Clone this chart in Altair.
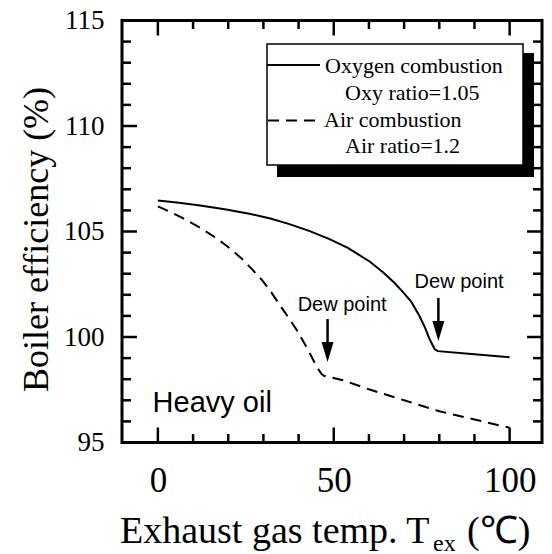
import altair as alt
import pandas as pd

# ---- data ----
temp_oxy = [0, 6, 12, 19, 26, 32, 37.4, 43, 48.8, 54, 60.2, 64, 67.3, 70, 72, 74.4, 76, 77.3, 78.7, 79.6, 90, 100]
eff_oxy = [106.47, 106.36, 106.23, 106.05, 105.84, 105.62, 105.35, 105.03, 104.64, 104.22, 103.58, 103.07, 102.56,
           102.07, 101.68, 100.98, 100.42, 99.88, 99.42, 99.33, 99.18, 99.04]

temp_air = [0, 3.5, 7.1, 12, 16.6, 20.5, 24.2, 27, 29.9, 32.3, 34.6, 37, 39.4, 41.8, 44.1, 45.5, 46.5, 47.2, 52.6,
            60, 70, 80, 90, 100]
eff_air = [106.19, 105.93, 105.63, 105.18, 104.69, 104.2, 103.66, 103.17, 102.64, 102.1, 101.53, 100.95, 100.35,
           99.66, 98.93, 98.5, 98.25, 98.16, 97.95, 97.52, 97.0, 96.48, 96.09, 95.7]

x_label_values = [0, 50, 100]
y_label_values = [95, 100, 105, 110, 115]
x_major_ticks = [0, 50, 100]
x_minor_ticks = [10, 20, 30, 40, 60, 70, 80, 90]
y_major_ticks = [100, 105, 110]
y_minor_ticks = [96, 97, 98, 99, 101, 102, 103, 104, 106, 107, 108, 109, 111, 112, 113, 114]

legend_titles = ["Oxygen combustion", "Air combustion"]
legend_subtitles = ["Oxy ratio=1.05", "Air ratio=1.2"]

dew_label = "Dew point"
dew_arrow_x = [48.24, 79.74]
dew_arrow_top = [100.85, 101.85]
dew_arrow_head = [99.29, 100.28]
dew_text_x = [52.37, 85.63]
dew_text_y = [101.25, 102.31]

fuel_label = ["Heavy oil"]
fuel_x = [-1.5]
fuel_y = [96.46]

x_title = "Exhaust gas temp. T"
x_title_sub = "ex"
x_title_unit = "(\u2103)"
y_title = "Boiler efficiency (%)"

# ---- layout ----
W, H = 420, 422
SERIF = "Liberation Serif"
SANS = "Liberation Sans"

xs = alt.Scale(domain=[-10.2, 109.2], nice=False, zero=False)
ys = alt.Scale(domain=[95, 115], nice=False, zero=False)

x_axis = alt.Axis(values=x_label_values, title=None, ticks=False, tickSize=0, domain=False, grid=False,
                  labelFont=SERIF, labelFontSize=35, labelColor="black", labelPadding=21, labelFlush=False)
y_axis = alt.Axis(values=y_label_values, title=None, ticks=False, tickSize=0, domain=False, grid=False,
                  labelFont=SERIF, labelFontSize=27, labelColor="black", labelPadding=18, labelFlush=False)


def X(field="T"):
    return alt.X(f"{field}:Q", scale=xs, axis=x_axis)


def Y(field="eff"):
    return alt.Y(f"{field}:Q", scale=ys, axis=y_axis)


one = pd.DataFrame({"a": [0]})

oxy = alt.Chart(pd.DataFrame({"T": temp_oxy, "eff": eff_oxy})).mark_line(
    color="black", strokeWidth=2).encode(x=X(), y=Y())
air = alt.Chart(pd.DataFrame({"T": temp_air, "eff": eff_air})).mark_line(
    color="black", strokeWidth=2, strokeDash=[11, 7]).encode(x=X(), y=Y())

layers = [oxy, air]

# ticks (inward on all four sides)
for vals, ln in ((x_major_ticks, 15), (x_minor_ticks, 8.5)):
    d = pd.DataFrame({"T": vals})
    layers.append(alt.Chart(d).mark_rule(color="black", strokeWidth=2.5).encode(
        x=X(), y=alt.value(H), y2=alt.value(H - ln)))
    layers.append(alt.Chart(d).mark_rule(color="black", strokeWidth=2.5).encode(
        x=X(), y=alt.value(0), y2=alt.value(ln)))
for vals, ln in ((y_major_ticks, 15), (y_minor_ticks, 9)):
    d = pd.DataFrame({"eff": vals})
    layers.append(alt.Chart(d).mark_rule(color="black", strokeWidth=2.5).encode(
        y=Y(), x=alt.value(0), x2=alt.value(ln)))
    layers.append(alt.Chart(d).mark_rule(color="black", strokeWidth=2.5).encode(
        y=Y(), x=alt.value(W - ln), x2=alt.value(W)))

# legend box with shadow
layers.append(alt.Chart(one).mark_rect(color="black").encode(
    x=alt.value(155), x2=alt.value(412), y=alt.value(32.5), y2=alt.value(156.5)))
layers.append(alt.Chart(one).mark_rect(fill="white", stroke="black", strokeWidth=1.5).encode(
    x=alt.value(145), x2=alt.value(401), y=alt.value(23.5), y2=alt.value(144.5)))
layers.append(alt.Chart(one).mark_rule(color="black", strokeWidth=2).encode(
    x=alt.value(145), x2=alt.value(198), y=alt.value(44.5)))
layers.append(alt.Chart(one).mark_rule(color="black", strokeWidth=2, strokeDash=[11, 7]).encode(
    x=alt.value(146), x2=alt.value(194), y=alt.value(100)))
for txt, px, py in ((legend_titles[0], 203, 52.8), (legend_subtitles[0], 223, 79.5),
                    (legend_titles[1], 202, 106.2), (legend_subtitles[1], 223, 132.2)):
    layers.append(alt.Chart(one).mark_text(font=SERIF, fontSize=22, color="black", align="left",
                                           baseline="alphabetic").encode(
        x=alt.value(px), y=alt.value(py), text=alt.value(txt)))

# dew point arrows
arrows = pd.DataFrame({"T": dew_arrow_x, "eff": dew_arrow_top, "eff2": dew_arrow_head})
layers.append(alt.Chart(arrows).mark_rule(color="black", strokeWidth=2.5).encode(
    x=X(), y=Y(), y2="eff2:Q"))
heads = pd.DataFrame({"T": dew_arrow_x, "eff": dew_arrow_head})
layers.append(alt.Chart(heads).mark_point(shape="M-0.6,-1L0.6,-1L0,1Z", size=400, filled=True,
                                          color="black", opacity=1).encode(x=X(), y=Y()))
dew_df = pd.DataFrame({"T": dew_text_x, "eff": dew_text_y, "label": [dew_label, dew_label]})
layers.append(alt.Chart(dew_df).mark_text(font=SANS, fontSize=20, color="black", align="center",
                                          baseline="alphabetic").encode(x=X(), y=Y(), text="label:N"))
fuel_df = pd.DataFrame({"T": fuel_x, "eff": fuel_y, "label": fuel_label})
layers.append(alt.Chart(fuel_df).mark_text(font=SANS, fontSize=29, color="black", align="left",
                                           baseline="alphabetic").encode(x=X(), y=Y(), text="label:N"))

# axis titles
layers.append(alt.Chart(one).mark_text(font=SERIF, fontSize=36, color="black", angle=270, align="center",
                                       baseline="middle").encode(
    x=alt.value(-85), y=alt.value(219), text=alt.value(y_title)))
layers.append(alt.Chart(one).mark_text(font=SERIF, fontSize=38, color="black", align="left",
                                       baseline="alphabetic").encode(
    x=alt.value(-2), y=alt.value(522.5), text=alt.value(x_title)))
layers.append(alt.Chart(one).mark_text(font=SERIF, fontSize=24, color="black", align="left",
                                       baseline="alphabetic").encode(
    x=alt.value(311), y=alt.value(530), text=alt.value(x_title_sub)))
layers.append(alt.Chart(one).mark_text(font=SERIF, fontSize=38, color="black", align="left",
                                       baseline="alphabetic").encode(
    x=alt.value(345), y=alt.value(522.5), text=alt.value(x_title_unit)))

chart = alt.layer(*layers).properties(
    width=W, height=H,
    autosize=alt.AutoSizeParams(type="none"),
    padding={"left": 122, "top": 20.5, "right": 10, "bottom": 111.5},
    background="white",
).configure_view(stroke="black", strokeWidth=3)

chart.save("out.html", embed_options={"renderer": "svg", "actions": False})
